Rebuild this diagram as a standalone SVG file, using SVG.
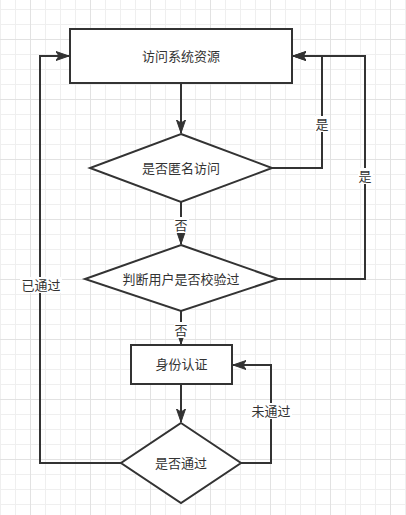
<svg xmlns="http://www.w3.org/2000/svg" width="406" height="515" viewBox="0 0 406 515">
<style>
.node{fill:#ffffff;stroke:#333333;stroke-width:2}
.edge{fill:none;stroke:#333333;stroke-width:2}
.t{font-family:"Liberation Sans","Noto Sans CJK SC",sans-serif;font-size:13px;fill:#333333;text-anchor:middle;dominant-baseline:central}
.lbg{fill:#ffffff}
</style>
<defs>
<pattern id="grid" patternUnits="userSpaceOnUse" x="30" y="39" width="60" height="60">
<rect x="15" y="0" width="1" height="60" fill="#efefef"/>
<rect x="30" y="0" width="1" height="60" fill="#efefef"/>
<rect x="45" y="0" width="1" height="60" fill="#efefef"/>
<rect x="0" y="15" width="60" height="1" fill="#efefef"/>
<rect x="0" y="30" width="60" height="1" fill="#efefef"/>
<rect x="0" y="45" width="60" height="1" fill="#efefef"/>
<rect x="0" y="0" width="1" height="60" fill="#e2e2e2"/>
<rect x="0" y="0" width="60" height="1" fill="#e2e2e2"/>
</pattern>
<marker id="arr" markerUnits="userSpaceOnUse" markerWidth="14" markerHeight="10" refX="13" refY="5" orient="auto" viewBox="0 0 14 10">
<path d="M0,0.5 L13,5 L0,9.5 L3,5 Z" fill="#333333" stroke="#333333" stroke-width="1"/>
</marker>
</defs>
<rect x="0" y="0" width="406" height="515" fill="#ffffff"/>
<rect x="0" y="0" width="406" height="515" fill="url(#grid)"/>

<g id="connectors">
<path class="edge" d="M181,83 L181,133" marker-end="url(#arr)"/>
<path class="edge" d="M272,168 L322,168 L322,56 L293,56" marker-end="url(#arr)"/>
<path class="edge" d="M181,202 L181,244" marker-end="url(#arr)"/>
<path class="edge" d="M278,279 L365,279 L365,56 L293,56" marker-end="url(#arr)"/>
<path class="edge" d="M181,311 L181,344" marker-end="url(#arr)"/>
<path class="edge" d="M181,384 L181,422" marker-end="url(#arr)"/>
<path class="edge" d="M241,463 L271,463 L271,365 L233,365" marker-end="url(#arr)"/>
<path class="edge" d="M121,463 L40,463 L40,56 L69,56" marker-end="url(#arr)"/>
<g id="edge-labels">
<rect class="lbg" x="315" y="116" width="15" height="16"/>
<text class="t" x="322" y="124">是</text>
<rect class="lbg" x="358" y="168" width="15" height="16"/>
<text class="t" x="365" y="176">是</text>
<rect class="lbg" x="174" y="217" width="15" height="16"/>
<text class="t" x="181" y="225">否</text>
<rect class="lbg" x="174" y="322" width="15" height="16"/>
<text class="t" x="181" y="330">否</text>
<rect class="lbg" x="20" y="277" width="42" height="16"/>
<text class="t" x="41" y="285">已通过</text>
<rect class="lbg" x="250" y="403" width="42" height="16"/>
<text class="t" x="271" y="411">未通过</text>
</g>
</g>

<g id="node-access">
<rect class="node" x="70" y="29" width="222" height="54"/>
<text class="t" x="181" y="56">访问系统资源</text>
</g>
<g id="node-anonymous">
<polygon class="node" points="181,134 272,168 181,202 90,168"/>
<text class="t" x="181" y="168">是否匿名访问</text>
</g>
<g id="node-verified">
<polygon class="node" points="181,245 278,279 181,311 85,279"/>
<text class="t" x="181" y="279">判断用户是否校验过</text>
</g>
<g id="node-auth">
<rect class="node" x="131" y="345" width="101" height="39"/>
<text class="t" x="181.5" y="364.5">身份认证</text>
</g>
<g id="node-passed">
<polygon class="node" points="181,423 241,463 181,503 121,463"/>
<text class="t" x="181" y="463">是否通过</text>
</g>
</svg>
